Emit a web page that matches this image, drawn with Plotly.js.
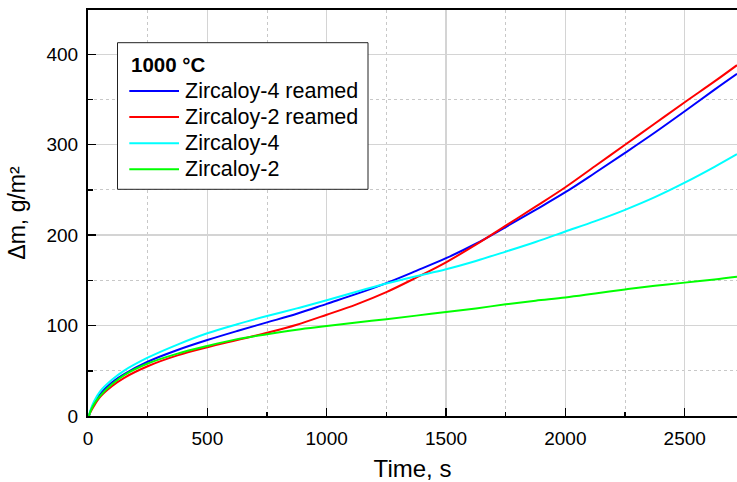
<!DOCTYPE html>
<html>
<head>
<meta charset="utf-8">
<script src="https://cdn.plot.ly/plotly-3.0.1.min.js"></script>
<style>html,body{margin:0;padding:0;background:#fff;overflow:hidden}</style>
</head>
<body>
<div id="chart" style="width:737px;height:482px"></div>
<script>
// Time, s
const time = [0, 3, 10, 25, 50, 100, 150, 250, 375, 500, 625, 750, 875, 1000, 1125, 1250, 1375, 1500, 1625, 1750, 1875, 2000, 2125, 2250, 2375, 2500, 2625, 2719];
// Δm, g/m²
const zr4Reamed = [0, 0, 5, 14, 24, 37, 46, 60, 73, 84, 94, 103.5, 113, 124, 135, 147, 160.5, 174.5, 190.5, 209, 228, 247.5, 269, 291, 313.5, 337, 361, 378.5];
const zr2Reamed = [0, 0, 4, 11, 21, 33, 42, 55, 67, 76, 84, 92, 101, 112, 123.5, 137, 153, 170, 189.5, 210.5, 231.5, 253, 276.5, 300, 323.5, 347, 370, 388];
const zr4 = [0, 0, 6, 16, 27, 40, 50, 64.5, 79, 91.5, 101.5, 110.5, 119, 128, 137.5, 146.5, 154.5, 162.3, 171.5, 181.8, 192.5, 204, 215.5, 228, 242, 258, 275.5, 289.5];
const zr2 = [0, 0, 5, 13, 22, 35, 45, 58, 69, 77.5, 85, 90.5, 95.5, 99.5, 103.5, 107, 111, 115, 119, 123.5, 127.5, 131, 135.5, 140, 144, 147.5, 151, 154];
const seriesNames = ['Zircaloy-4 reamed', 'Zircaloy-2 reamed', 'Zircaloy-4', 'Zircaloy-2'];
const seriesValues = [zr4Reamed, zr2Reamed, zr4, zr2];
const seriesColors = ['#0000ff', '#ff0000', '#00ffff', '#00ff00'];
const legendTitle = '1000 °C';
const xTicks = [0, 500, 1000, 1500, 2000, 2500];
const yTicks = [0, 100, 200, 300, 400];

const font = 'Arial, "Liberation Sans", sans-serif';
const W = 737, H = 482, M = {l: 88, r: 0, t: 10, b: 66};
const pw = W - M.l - M.r, ph = H - M.t - M.b;
const px = x => (x - M.l) / pw;          // page pixel -> paper x
const py = y => (H - M.b - y) / ph;      // page pixel -> paper y

const traces = seriesNames.map((n, i) => ({
  x: time, y: seriesValues[i], name: n, type: 'scatter', mode: 'lines',
  line: {color: seriesColors[i], width: 2, shape: 'spline', smoothing: 1},
  showlegend: false
}));

// legend box drawn in paper coordinates
const legendRows = [91, 117, 143.3, 169.3];
const shapes = [{
  type: 'rect', xref: 'paper', yref: 'paper',
  x0: px(117.5), x1: px(368), y0: py(189.3), y1: py(42.7),
  line: {color: '#222', width: 1}, fillcolor: '#fff', layer: 'above'
}];
const annotations = [{
  xref: 'paper', yref: 'paper', x: px(129), y: py(64.5), xanchor: 'left', yanchor: 'middle',
  text: '<b>' + legendTitle + '</b>', showarrow: false,
  font: {family: font, size: 20.5, color: '#000'}
}];
seriesNames.forEach((n, i) => {
  shapes.push({
    type: 'line', xref: 'paper', yref: 'paper',
    x0: px(129.3), x1: px(179), y0: py(legendRows[i]), y1: py(legendRows[i]),
    line: {color: seriesColors[i], width: 2}, layer: 'above'
  });
  annotations.push({
    xref: 'paper', yref: 'paper', x: px(182.5), y: py(legendRows[i]), xanchor: 'left', yanchor: 'middle',
    text: n, showarrow: false, font: {family: font, size: 21.5, color: '#000'}
  });
});

const layout = {
  width: W, height: H, margin: M,
  paper_bgcolor: '#fff', plot_bgcolor: '#fff',
  font: {family: font, size: 19, color: '#000'},
  showlegend: false,
  shapes: shapes, annotations: annotations,
  xaxis: {
    range: [0, 2719], tickvals: xTicks, ticktext: xTicks.map(String),
    ticks: 'inside', ticklen: 8, tickwidth: 1.5, tickcolor: '#000',
    showline: true, linecolor: '#000', linewidth: 2, mirror: true,
    showgrid: true, gridcolor: '#d4d4d4', gridwidth: 1.5, zeroline: false,
    ticklabelstandoff: 4,
    minor: {dtick: 250, ticks: 'inside', ticklen: 4, tickcolor: '#000', tickwidth: 1.5,
            showgrid: true, gridcolor: '#c8c8c8', griddash: 'dot', gridwidth: 1},
    title: {text: 'Time, s', font: {family: font, size: 24, color: '#000'}, standoff: 12}
  },
  yaxis: {
    range: [0, 449], tickvals: yTicks, ticktext: yTicks.map(String),
    ticks: 'inside', ticklen: 8, tickwidth: 1.5, tickcolor: '#000',
    showline: true, linecolor: '#000', linewidth: 2, mirror: false,
    showgrid: true, gridcolor: '#d4d4d4', gridwidth: 1.5, zeroline: false,
    ticklabelstandoff: 4,
    minor: {dtick: 50, ticks: 'inside', ticklen: 5, tickcolor: '#000', tickwidth: 1.5,
            showgrid: true, gridcolor: '#c8c8c8', griddash: 'dot', gridwidth: 1},
    title: {text: 'Δm, g/m²', font: {family: font, size: 23, color: '#000'}, standoff: 14}
  }
};

Plotly.newPlot('chart', traces, layout, {displayModeBar: false, staticPlot: true});
</script>
</body>
</html>
